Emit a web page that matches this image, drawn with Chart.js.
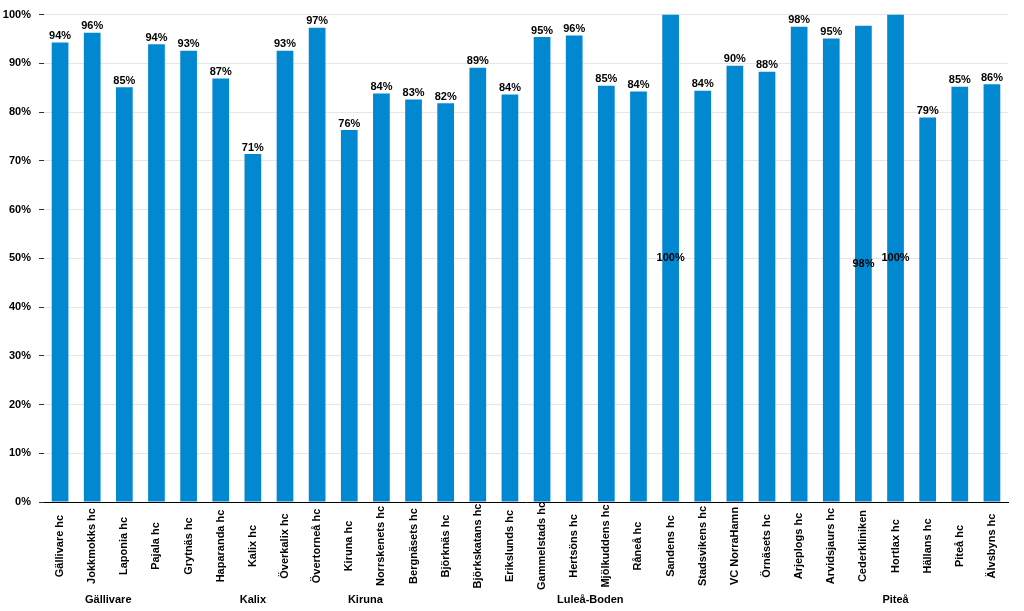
<!DOCTYPE html>
<html>
<head>
<meta charset="utf-8">
<script src="https://cdn.jsdelivr.net/npm/chart.js@4/dist/chart.umd.min.js"></script>
<style>
  html, body { margin: 0; padding: 0; background: #fff; }
  #wrap { width: 1024px; height: 611px; }
</style>
</head>
<body>
<div id="wrap"><canvas id="vaccGraph" width="1024" height="611"></canvas></div>
<script>
const units = [
  'Gällivare hc', 'Jokkmokks hc', 'Laponia hc', 'Pajala hc', 'Grytnäs hc',
  'Haparanda hc', 'Kalix hc', 'Överkalix hc', 'Övertorneå hc', 'Kiruna hc',
  'Norrskenets hc', 'Bergnäsets hc', 'Björknäs hc', 'Björkskatans hc', 'Erikslunds hc',
  'Gammelstads hc', 'Hertsöns hc', 'Mjölkuddens hc', 'Råneå hc', 'Sandens hc',
  'Stadsvikens hc', 'VC NorraHamn', 'Örnäsets hc', 'Arjeplogs hc', 'Arvidsjaurs hc',
  'Cederkliniken', 'Hortlax hc', 'Hällans hc', 'Piteå hc', 'Älvsbyns hc'
];
const shares = [
  94.3, 96.3, 85.1, 93.9, 92.6,
  86.9, 71.4, 92.6, 97.3, 76.3,
  83.8, 82.6, 81.8, 89.1, 83.6,
  95.4, 95.7, 85.4, 84.2, 100,
  84.4, 89.5, 88.3, 97.5, 95.1,
  97.7, 100, 78.9, 85.2, 85.7
];
// områden under kategorierna (namn + mittindex)
const areaNames = ['Gällivare', 'Kalix', 'Kiruna', 'Luleå-Boden', 'Piteå'];
const areaCenters = [1.5, 6, 9.5, 16.5, 26];
// etiketter som Excel lade mitt i stapeln
const centeredLabels = ['Sandens hc', 'Cederkliniken', 'Hortlax hc'];

const boldFont = 'bold 11px "Liberation Sans", Arial, sans-serif';

const labelPlugin = {
  id: 'labelPlugin',
  afterDraw(chart) {
    const ctx = chart.ctx;
    const x = chart.scales.x;
    const meta = chart.getDatasetMeta(0);
    ctx.save();
    ctx.font = boldFont;
    ctx.fillStyle = '#000';

    // värden ovanför staplarna
    ctx.textAlign = 'center';
    meta.data.forEach(function(bar, i) {
      const txt = Math.round(shares[i]) + '%';
      if (centeredLabels.indexOf(units[i]) >= 0) {
        ctx.textBaseline = 'middle';
        ctx.fillText(txt, bar.x, (bar.y + bar.base) / 2);
      } else {
        ctx.textBaseline = 'bottom';
        ctx.fillText(txt, bar.x, bar.y - 1);
      }
    });

    // kategorinamn, roterade och centrerade
    units.forEach(function(name, i) {
      ctx.save();
      ctx.translate(x.getPixelForValue(i), 546);
      ctx.rotate(-Math.PI / 2);
      ctx.textAlign = 'center';
      ctx.textBaseline = 'middle';
      ctx.fillText(name, 0, 0);
      ctx.restore();
    });

    // områdesnamn
    ctx.textAlign = 'center';
    ctx.textBaseline = 'middle';
    areaNames.forEach(function(name, i) {
      ctx.fillText(name, x.getPixelForValue(areaCenters[i]), 600);
    });
    ctx.restore();
  }
};

const vaccConfig = {
  type: 'bar',
  data: {
    labels: units,
    datasets: [{
      data: shares,
      backgroundColor: '#0288d1',
      barPercentage: 0.52,
      categoryPercentage: 1
    }]
  },
  options: {
    responsive: false,
    animation: false,
    layout: {
      padding: { left: 0, right: 16, top: 14, bottom: 0 }
    },
    plugins: {
      legend: { display: false },
      tooltip: { enabled: false }
    },
    scales: {
      x: {
        grid: { display: false },
        border: { display: true, color: '#000', width: 1 },
        ticks: { display: false },
        afterFit: function(scale) { scale.height = 109; }
      },
      y: {
        min: 0,
        max: 100,
        afterFit: function(scale) { scale.width = 44; },
        border: { display: false },
        grid: {
          color: '#e6e6e6',
          tickColor: '#333',
          tickLength: 5,
          drawTicks: true
        },
        ticks: {
          stepSize: 10,
          padding: 8,
          color: '#000',
          font: { family: '"Liberation Sans", Arial, sans-serif', size: 11, weight: 'bold' },
          callback: function(v) { return v + '%'; }
        }
      }
    }
  },
  plugins: [labelPlugin]
};

const vaccGraph = new Chart(
  document.getElementById('vaccGraph'),
  vaccConfig
);
</script>
</body>
</html>
